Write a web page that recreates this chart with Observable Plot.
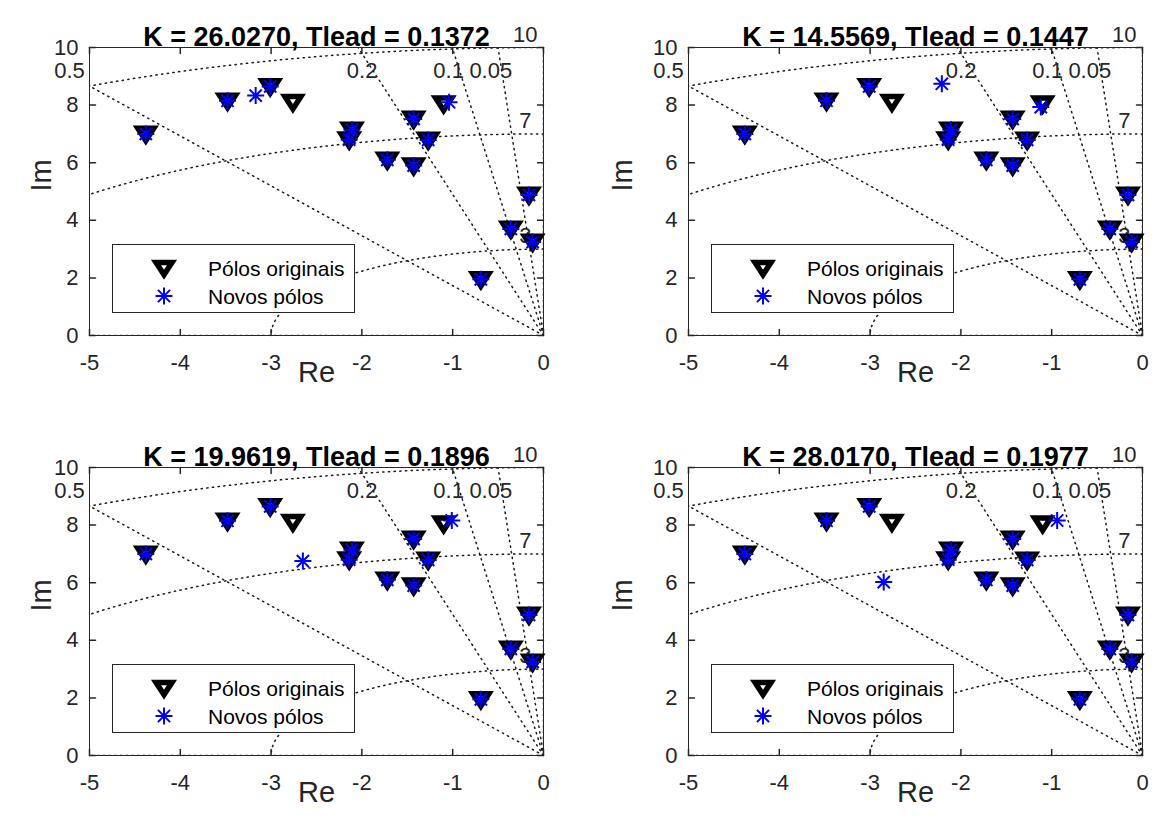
<!DOCTYPE html>
<html><head><meta charset="utf-8">
<script src="https://cdn.jsdelivr.net/npm/d3@7"></script>
<script src="https://cdn.jsdelivr.net/npm/@observablehq/plot@0.6"></script>
<style>
body{margin:0;background:#fff;}
#root{position:relative;width:1155px;height:840px;overflow:hidden;font-family:"Liberation Sans",Arial,Helvetica,sans-serif;}
.panel{position:absolute;}
.legend{position:absolute;box-sizing:border-box;border:1px solid #262626;background:#fff;width:243px;height:69px;}
.legend .row{position:absolute;left:0;height:28px;width:100%;}
.legend svg{position:absolute;left:36px;top:-1px;}
.legend span{position:absolute;left:95px;top:1px;font-size:21px;line-height:28px;color:#000;}
</style></head>
<body><div id="root"></div>
<script>
// ---- data ----
const Kvals = [26.0270, 14.5569, 19.9619, 28.0170];
const Tlead = [0.1372, 0.1447, 0.1896, 0.1977];

const origRe = [-4.38, -3.48, -3.01, -2.76, -2.11, -2.14, -1.72, -1.43, -1.43, -1.27, -1.10, -0.16, -0.36, -0.12, -0.69];
const origIm = [ 7.00,  8.15,  8.65,  8.10,  7.14,  6.80,  6.10,  5.90,  7.52,  6.79,  8.05,  4.88,  3.70,  3.25,  1.95];

const newRe1 = [-4.38, -3.48, -3.01, -3.17, -2.11, -2.14, -1.72, -1.43, -1.43, -1.27, -1.04, -0.16, -0.36, -0.12, -0.69];
const newIm1 = [ 7.00,  8.15,  8.65,  8.33,  7.14,  6.80,  6.10,  5.90,  7.52,  6.79,  8.10,  4.88,  3.70,  3.25,  1.95];
const newRe2 = [-4.38, -3.48, -3.01, -2.21, -2.11, -2.14, -1.72, -1.43, -1.43, -1.27, -1.12, -0.16, -0.36, -0.12, -0.69];
const newIm2 = [ 7.00,  8.15,  8.65,  8.74,  7.14,  6.80,  6.10,  5.90,  7.52,  6.79,  7.93,  4.88,  3.70,  3.25,  1.95];
const newRe3 = [-4.38, -3.48, -3.01, -2.65, -2.11, -2.14, -1.72, -1.43, -1.43, -1.27, -1.01, -0.16, -0.36, -0.12, -0.69];
const newIm3 = [ 7.00,  8.15,  8.65,  6.75,  7.14,  6.80,  6.10,  5.90,  7.52,  6.79,  8.16,  4.88,  3.70,  3.25,  1.95];
const newRe4 = [-4.38, -3.48, -3.01, -2.85, -2.11, -2.14, -1.72, -1.43, -1.43, -1.27, -0.94, -0.16, -0.36, -0.12, -0.69];
const newIm4 = [ 7.00,  8.15,  8.65,  6.02,  7.14,  6.80,  6.10,  5.90,  7.52,  6.79,  8.16,  4.88,  3.70,  3.25,  1.95];

const zetaLines = [0, 0.05, 0.1, 0.2, 0.5, 1];
const zetaLabeled = [0.05, 0.1, 0.2, 0.5];
const wnCircles = [3, 7, 10];
const xTicks = [-5, -4, -3, -2, -1, 0];
const yTicks = [0, 2, 4, 6, 8, 10];
const legendNames = ["Pólos originais", "Novos pólos"];

// ---- symbols ----
const triDown = {draw(ctx, size){ const r = Math.sqrt(size/Math.PI);
  ctx.moveTo(-r, -0.7*r); ctx.lineTo(r, -0.7*r); ctx.lineTo(0, 0.85*r); ctx.closePath(); }};
const asterisk = {draw(ctx, size){ const r = Math.sqrt(size/Math.PI); const d = r*0.72;
  ctx.moveTo(-r,0); ctx.lineTo(r,0); ctx.moveTo(0,-r); ctx.lineTo(0,r);
  ctx.moveTo(-d,-d); ctx.lineTo(d,d); ctx.moveTo(-d,d); ctx.lineTo(d,-d); }};
const tickShape = {draw(ctx, l){ ctx.moveTo(0,0); ctx.lineTo(0,-l); }};

const AX = "#262626";
const FONT = '"Liberation Sans", Arial, Helvetica, sans-serif';
const DOT = {stroke: "#1a1a1a", strokeWidth: 1.5, strokeDasharray: "1.3,4.4", clip: true};

const root = document.getElementById("root");
const newRe = [newRe1, newRe2, newRe3, newRe4];
const newIm = [newIm1, newIm2, newIm3, newIm4];

const panels = [
  {left: 0,   top: 0,   width: 577, mL: 89,  mR: 34, imDx: -48},
  {left: 577, top: 0,   width: 578, mL: 111, mR: 13, imDx: -66},
  {left: 0,   top: 420, width: 577, mL: 89,  mR: 34, imDx: -48},
  {left: 577, top: 420, width: 578, mL: 111, mR: 13, imDx: -66}
];

panels.forEach((p, i) => {
  const orig = origRe.map((x, j) => ({re: x, im: origIm[j]}));
  const nw = newRe[i].map((x, j) => ({re: x, im: newIm[i][j]}));
  const R = 14;
  const zl = zetaLines.flatMap(z => [{z, re: 0, im: 0}, {z, re: -R*z, im: R*Math.sqrt(1 - z*z)}]);
  const arcs = wnCircles.flatMap(w => d3.range(0, 181).map(a => {
    const t = a/2*Math.PI/180; return {w, re: -w*Math.sin(t), im: w*Math.cos(t)}; }));
  const zLab = zetaLabeled.map(z => ({z, re: Math.max(-9.2*z/Math.sqrt(1 - z*z) - 0.12, -5.22), im: 9.2}));
  const wLab = wnCircles.map(w => ({w, re: -0.2, im: Math.sqrt(w*w - 0.04)}));
  const title = `K = ${Kvals[i].toFixed(4)}, Tlead = ${Tlead[i].toFixed(4)}`;

  const svg = Plot.plot({
    width: p.width, height: 420,
    marginLeft: p.mL, marginRight: p.mR, marginTop: 47, marginBottom: 85,
    x: {domain: [-5, 0]}, y: {domain: [0, 10]},
    style: {fontFamily: FONT, background: "transparent", overflow: "visible"},
    marks: [
      Plot.line(zl, {x: "re", y: "im", z: "z", ...DOT}),
      Plot.line(arcs, {x: "re", y: "im", z: "w", ...DOT}),
      Plot.text(zLab, {x: "re", y: "im", text: d => String(d.z), fontSize: 22, fill: AX}),
      Plot.text(wLab, {x: "re", y: "im", text: d => String(d.w), dy: -13, fontSize: 22, fill: AX}),
      Plot.frame({stroke: AX, strokeWidth: 1}),
      Plot.vector(xTicks, {x: d => d, frameAnchor: "bottom", length: 6, rotate: 0, anchor: "start", shape: tickShape, stroke: AX}),
      Plot.vector(xTicks, {x: d => d, frameAnchor: "top", length: 6, rotate: 180, anchor: "start", shape: tickShape, stroke: AX}),
      Plot.vector(yTicks, {y: d => d, frameAnchor: "left", length: 6, rotate: 90, anchor: "start", shape: tickShape, stroke: AX}),
      Plot.vector(yTicks, {y: d => d, frameAnchor: "right", length: 6, rotate: -90, anchor: "start", shape: tickShape, stroke: AX}),
      Plot.axisX({ticks: xTicks, tickSize: 0, tickPadding: 19, fontSize: 22, fill: AX, label: null, tickFormat: d => String(d)}),
      Plot.axisY({ticks: yTicks, tickSize: 0, tickPadding: 11, fontSize: 22, fill: AX, label: null, tickFormat: d => String(d)}),
      Plot.dot(orig, {x: "re", y: "im", symbol: triDown, r: 8, stroke: "#000", strokeWidth: 5.5, fill: "none"}),
      Plot.dot(nw, {x: "re", y: "im", symbol: asterisk, r: 8.5, stroke: "#0000ff", strokeWidth: 2, fill: "none"}),
      Plot.text([title], {text: d => d, frameAnchor: "top", dy: -21, fontSize: 27, fontWeight: "bold", fill: "#000"}),
      Plot.text(["Re"], {text: d => d, frameAnchor: "bottom", dy: 46, fontSize: 29, fill: AX}),
      Plot.text(["Im"], {text: d => d, frameAnchor: "left", dx: p.imDx, rotate: -90, fontSize: 29, fill: AX})
    ]
  });
  svg.classList.add("panel");
  svg.style.left = p.left + "px";
  svg.style.top = p.top + "px";
  root.appendChild(svg);

  // legend
  const lg = document.createElement("div");
  lg.className = "legend";
  lg.style.left = (p.left + p.mL + 23) + "px";
  lg.style.top = (p.top + 244) + "px";
  const tri = `<svg width="30" height="30" viewBox="-15 -15 30 30"><path d="M-8,-5.6L8,-5.6L0,6.8Z" fill="none" stroke="#000" stroke-width="5.5"/></svg>`;
  const st = `<svg width="30" height="30" viewBox="-15 -15 30 30"><path d="M-8.5,0L8.5,0M0,-8.5L0,8.5M-6.1,-6.1L6.1,6.1M-6.1,6.1L6.1,-6.1" fill="none" stroke="#0000ff" stroke-width="2"/></svg>`;
  lg.innerHTML = `<div class="row" style="top:9px">${tri}<span>${legendNames[0]}</span></div>` +
                 `<div class="row" style="top:37px">${st}<span>${legendNames[1]}</span></div>`;
  root.appendChild(lg);
});
</script>
</body></html>
